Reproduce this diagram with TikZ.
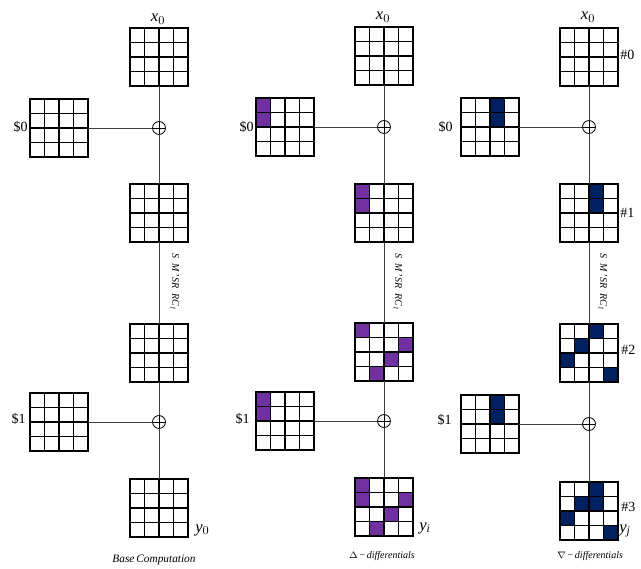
\documentclass[tikz,border=0pt]{standalone}
\usepackage{fontspec}
\setmainfont{Liberation Serif}
\definecolor{purp}{HTML}{7030A0}
\definecolor{navy}{HTML}{002060}
\newcommand\cgrid[4]{%
  \begin{scope}[shift={(#2,#3)}]
    #4
    \foreach \i in {0,1,2,3,4}{\draw[gline] ({\i*14.5},0) -- ({\i*14.5},58); \draw[gline] (0,{\i*14.5}) -- (58,{\i*14.5});}
  \end{scope}
  \node[gridnode] (#1) at ({#2+29},{#3+29}) {};
}
\newcommand\fc[3]{\fill[#3] ({#2*14.5},{#1*14.5}) rectangle ++(14.5,14.5);}
\begin{document}
\begin{tikzpicture}[x=0.75pt,y=-0.75pt,
  gridnode/.style={rectangle,minimum size=43.5pt,inner sep=0pt,outer sep=0pt},
  gline/.style={black,line width=0.85pt,line cap=rect},
  conn/.style={draw=black!75,line width=0.6pt},
  opl/.style={circle,draw,line width=0.6pt,minimum size=9.7pt,inner sep=0pt,
    path picture={\draw[line width=0.6pt] (path picture bounding box.north) -- (path picture bounding box.south) (path picture bounding box.west) -- (path picture bounding box.east);}},
  lab/.style={font=\fontsize{10.5}{12}\selectfont,inner sep=0pt},
  xlab/.style={font=\fontsize{12.5}{14}\selectfont,inner sep=0pt},
  captext/.style={font=\fontsize{7.5}{9}\selectfont\itshape,inner sep=0pt},
  rot/.style={font=\fontsize{7.5}{9}\selectfont\itshape,rotate=-90,inner sep=0pt}]
\useasboundingbox (0,0) rectangle (641,568);
% ---------- column 1 ----------
\cgrid{a1}{130}{28}{}
\cgrid{as0}{30}{99}{}
\cgrid{a2}{130}{184}{}
\cgrid{a3}{130}{324}{}
\cgrid{as1}{30}{393}{}
\cgrid{a4}{130}{479}{}
\node[opl] (ao1) at (159,128) {};
\node[opl] (ao2) at (159,422) {};
\draw[conn] (a1.south) -- (ao1);
\draw[conn] (ao1) -- (a2.north);
\draw[conn] (as0.east) -- (ao1);
\draw[conn] (a2.south) -- (a3.north);
\draw[conn] (a3.south) -- (ao2);
\draw[conn] (ao2) -- (a4.north);
\draw[conn] (as1.east) -- (ao2);
\node[xlab] (ax) at (158,19) {$\mathit{x}_{0}$};
\node[xlab,anchor=west] (ay) at (195,530) {$\mathit{y}_{0}$};
\node[lab,anchor=east] (al0) at (28,127) {\$0};
\node[lab,anchor=east] (al1) at (26,419) {\$1};
\node[rot] (ar) at (175,282) {S\ \ M\,'SR\ \ RC\textsubscript{1}};
\node[captext,font=\fontsize{8.5}{10}\selectfont\itshape] (ac) at (154,560) {Base\,Computation};
% ---------- column 2 ----------
\cgrid{b1}{355}{27}{}
\cgrid{bs0}{256}{98}{\fc{0}{0}{purp}\fc{1}{0}{purp}}
\cgrid{b2}{355}{184}{\fc{0}{0}{purp}\fc{1}{0}{purp}}
\cgrid{b3}{355}{323}{\fc{0}{0}{purp}\fc{1}{3}{purp}\fc{2}{2}{purp}\fc{3}{1}{purp}}
\cgrid{bs1}{256}{392}{\fc{0}{0}{purp}\fc{1}{0}{purp}}
\cgrid{b4}{355}{478}{\fc{0}{0}{purp}\fc{1}{0}{purp}\fc{1}{3}{purp}\fc{2}{2}{purp}\fc{3}{1}{purp}}
\node[opl] (bo1) at (384,127) {};
\node[opl] (bo2) at (384,421) {};
\draw[conn] (b1.south) -- (bo1);
\draw[conn] (bo1) -- (b2.north);
\draw[conn] (bs0.east) -- (bo1);
\draw[conn] (b2.south) -- (b3.north);
\draw[conn] (b3.south) -- (bo2);
\draw[conn] (bo2) -- (b4.north);
\draw[conn] (bs1.east) -- (bo2);
\node[xlab] (bx) at (383,17) {$\mathit{x}_{0}$};
\node[xlab,anchor=west] (by) at (419,528) {$\mathit{y}_{\mathit{i}}$};
\node[lab,anchor=east] (bl0) at (254,127) {\$0};
\node[lab,anchor=east] (bl1) at (250,419) {\$1};
\node[rot] (br) at (398,282) {S\ \ M\,'SR\ \ RC\textsubscript{1}};
\node[captext] (bc) at (382,556) {\upshape$\Delta$\,−\,\itshape differentials};
% ---------- column 3 ----------
\cgrid{c1}{560}{28}{}
\cgrid{cs0}{461}{98}{\fc{0}{2}{navy}\fc{1}{2}{navy}}
\cgrid{c2}{560}{184}{\fc{0}{2}{navy}\fc{1}{2}{navy}}
\cgrid{c3}{560}{324}{\fc{0}{2}{navy}\fc{1}{1}{navy}\fc{2}{0}{navy}\fc{3}{3}{navy}}
\cgrid{cs1}{461}{395}{\fc{0}{2}{navy}\fc{1}{2}{navy}}
\cgrid{c4}{560}{482}{\fc{0}{2}{navy}\fc{1}{1}{navy}\fc{1}{2}{navy}\fc{2}{0}{navy}\fc{3}{3}{navy}}
\node[opl] (co1) at (589,127) {};
\node[opl] (co2) at (589,424) {};
\draw[conn] (c1.south) -- (co1);
\draw[conn] (co1) -- (c2.north);
\draw[conn] (cs0.east) -- (co1);
\draw[conn] (c2.south) -- (c3.north);
\draw[conn] (c3.south) -- (co2);
\draw[conn] (co2) -- (c4.north);
\draw[conn] (cs1.east) -- (co2);
\node[xlab] (cx) at (588,17) {$\mathit{x}_{0}$};
\node[xlab,anchor=west] (cy) at (619,531) {$\mathit{y}_{\mathit{j}}$};
\node[lab,anchor=east] (cl0) at (453,127) {\$0};
\node[lab,anchor=east] (cl1) at (452,420) {\$1};
\node[lab,anchor=west] (ch0) at (620,55) {\#0};
\node[lab,anchor=west] (ch1) at (620,213) {\#1};
\node[lab,anchor=west] (ch2) at (621,350) {\#2};
\node[lab,anchor=west] (ch3) at (621,507) {\#3};
\node[rot] (cr) at (603,282) {S\ \ M\,'SR\ \ RC\textsubscript{1}};
\node[captext] (cc) at (590,556) {\upshape$\nabla$\,−\,\itshape differentials};
\end{tikzpicture}
\end{document}
